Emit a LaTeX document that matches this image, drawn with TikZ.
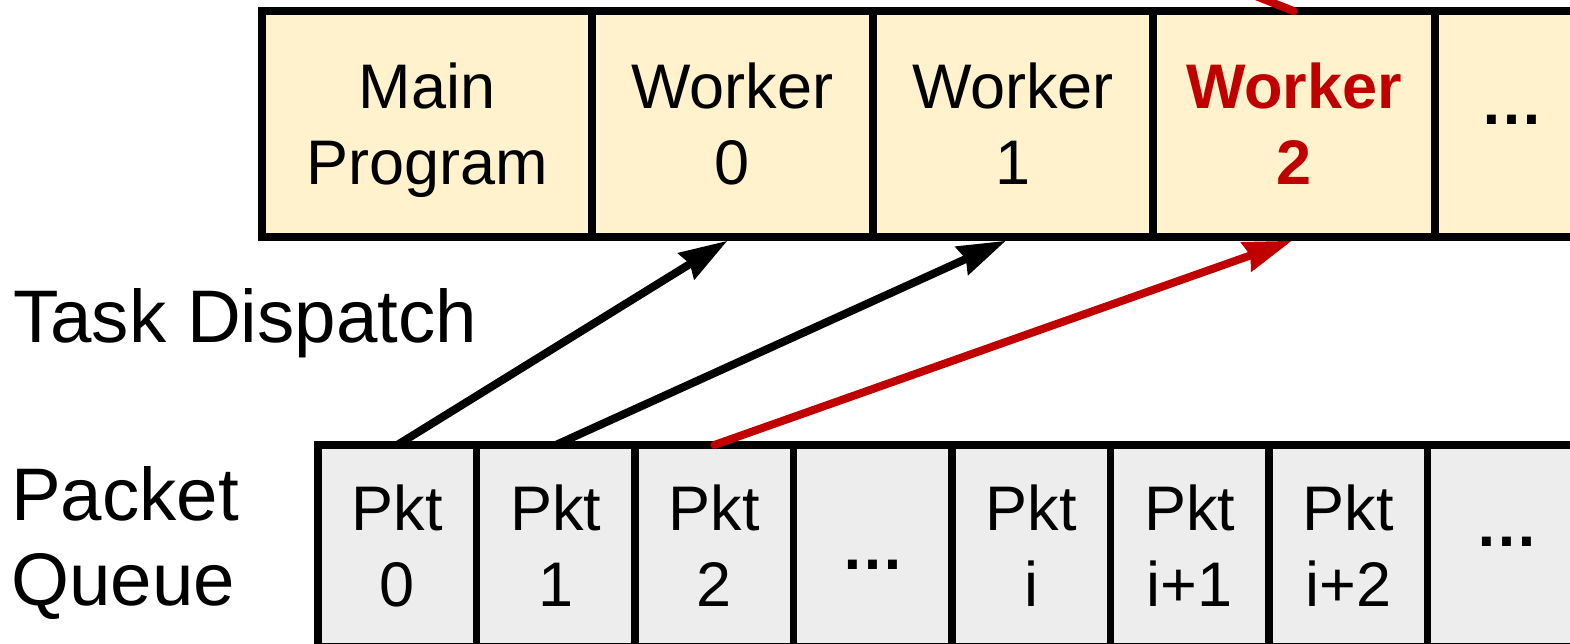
\documentclass[tikz,border=0pt]{standalone}
\usepackage{fontspec}
\setmainfont{Liberation Sans}
\usetikzlibrary{arrows.meta}
\definecolor{workerfill}{HTML}{FFF2CC}
\definecolor{pktfill}{HTML}{EDEDED}
\definecolor{hotred}{HTML}{C00000}
% ellipsis placed on its own baseline, taking no vertical room
\newcommand{\moredots}[1]{\raisebox{#1}[0pt][0pt]{\bfseries …}}
\begin{document}
\begin{tikzpicture}[x=1pt,y=-1pt,
  cellbox/.style={draw=black, line width=7.5pt, rectangle, inner sep=0pt, align=center,
                  font=\fontsize{63}{76}\selectfont},
  workercell/.style={cellbox, fill=workerfill, minimum height=226pt},
  pktcell/.style={cellbox, fill=pktfill, minimum height=202pt, minimum width=158.5pt, outer sep=0pt},
  sidelabel/.style={inner sep=0pt, align=left, font=\fontsize{74.5}{85}\selectfont},
  dispatch/.style={line width=8pt, line cap=round,
                   -{Stealth[length=48pt,width=30pt,inset=4pt]}},
]
\useasboundingbox (0,0) rectangle (1570,644);
\clip (0,0) rectangle (1570,644);

% program row
\node[workercell, minimum width=330pt, text depth=0pt] (main) at (427,124) {Main\\Program};
\node[workercell, minimum width=281pt] (w0) at (732.5,124) {Worker\\0};
\node[workercell, minimum width=280pt] (w1) at (1013,124) {Worker\\1};
\node[workercell, minimum width=282pt, text=hotred,
      font=\bfseries\fontsize{63}{76}\selectfont] (w2) at (1294,124) {Worker\\2};
\node[workercell, minimum width=154pt] (wmore) at (1512,124) {\moredots{-1pt}};

% packet queue
\node[pktcell] (p0)   at (397.25,546)  {Pkt\\0};
\node[pktcell] (p1)   at (555.75,546)  {Pkt\\1};
\node[pktcell] (p2)   at (714.25,546)  {Pkt\\2};
\node[pktcell] (pgap) at (872.75,546)  {\moredots{-23pt}};
\node[pktcell] (pi)   at (1031.25,546) {Pkt\\i};
\node[pktcell] (pi1)  at (1189.75,546) {Pkt\\i+1};
\node[pktcell] (pi2)  at (1348.25,546) {Pkt\\i+2};
\node[pktcell] (pmore) at (1506.75,546) {\moredots{0pt}};

% side labels
\node[sidelabel, anchor=base west] (task) at (13,342) {Task Dispatch};
\node[sidelabel, anchor=base west] (queue) at (11,605) {Packet\\Queue};

% dispatch arrows
\draw[dispatch] (p0.north) -- ([xshift=-5pt]w0.south);
\draw[dispatch] (p1.north) -- ([xshift=-7pt]w1.south);
\draw[dispatch, hotred] (p2.north) -- ([xshift=-2pt]w2.south);

% link leaving worker 2 upwards
\coordinate (above) at (1193,-29);
\draw[line width=8pt, line cap=round, hotred] (above) -- ([yshift=-4pt]w2.north);
\end{tikzpicture}
\end{document}
